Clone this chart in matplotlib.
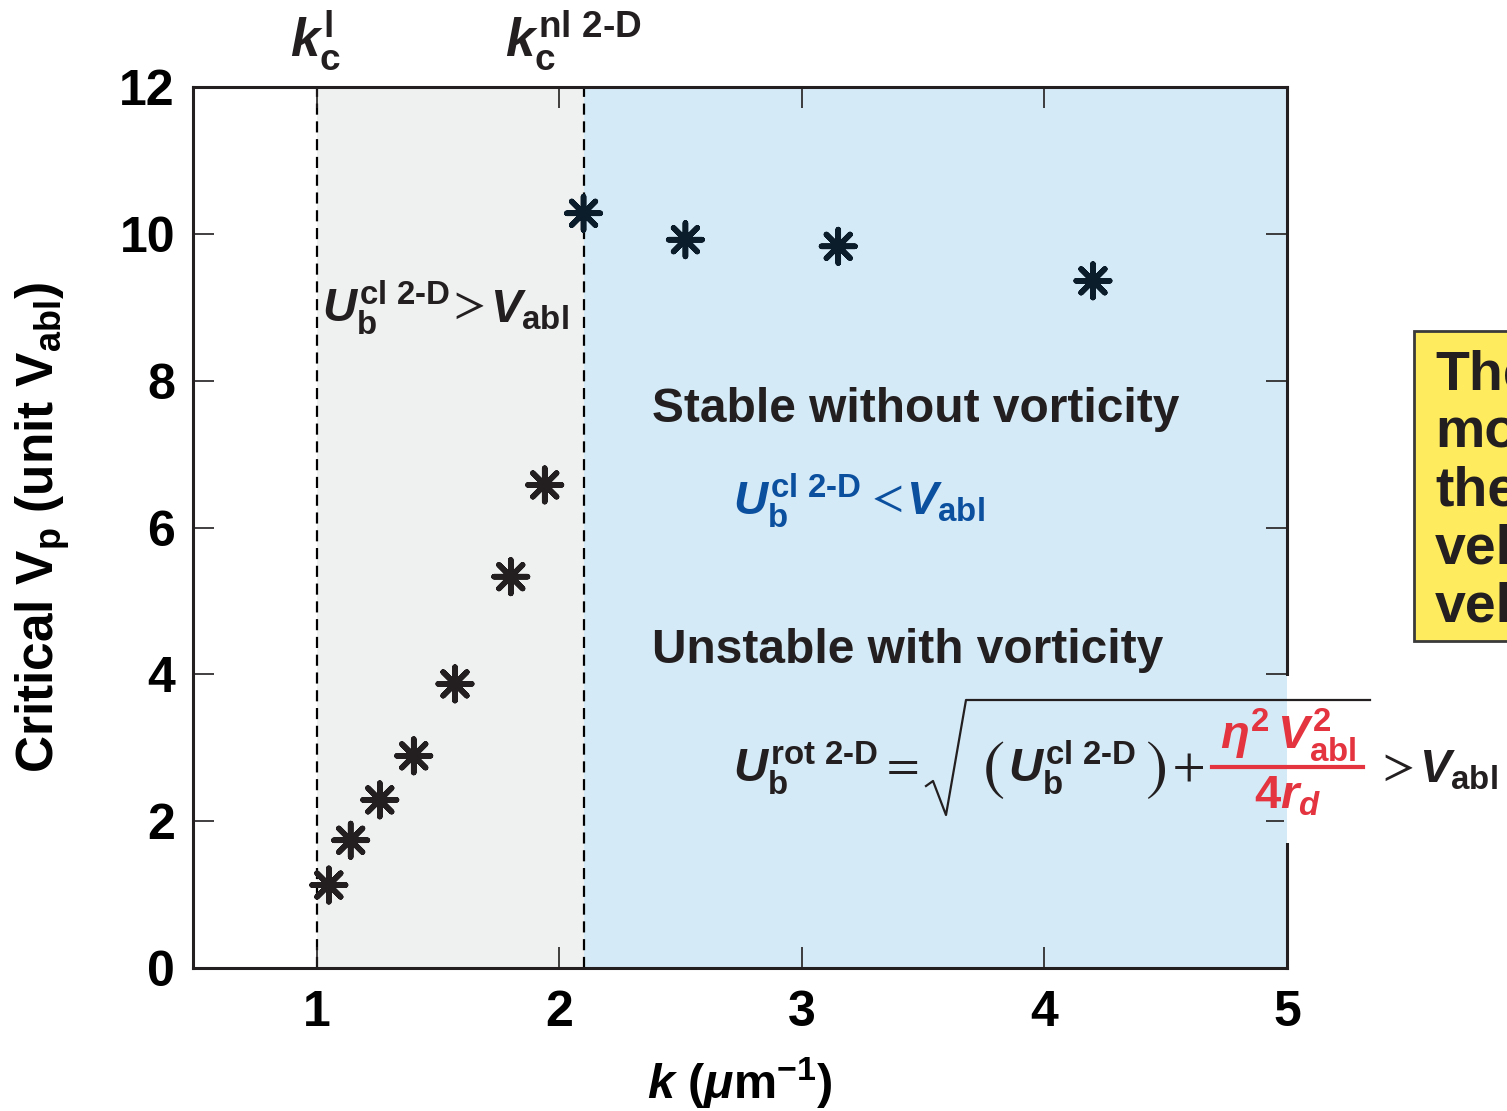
import matplotlib
matplotlib.use('Agg')
import matplotlib.pyplot as plt
from matplotlib.lines import Line2D
from matplotlib.patches import Rectangle

plt.rcParams['font.family'] = ['Liberation Sans', 'DejaVu Sans']
plt.rcParams['font.weight'] = 'bold'
plt.rcParams['axes.labelweight'] = 'bold'
plt.rcParams['mathtext.fontset'] = 'custom'
plt.rcParams['mathtext.rm'] = 'Liberation Sans:bold'
plt.rcParams['mathtext.it'] = 'Liberation Sans:bold:italic'
plt.rcParams['mathtext.bf'] = 'Liberation Sans:bold'

# data
k = [1.05, 1.14, 1.26, 1.40, 1.57, 1.80, 1.94, 2.10, 2.52, 3.15, 4.20]
vp = [1.13, 1.74, 2.29, 2.89, 3.87, 5.33, 6.58, 10.28, 9.92, 9.83, 9.36]
kc_l = 1.0
kc_nl = 2.1
xticks = [1, 2, 3, 4, 5]
yticks = [0, 2, 4, 6, 8, 10, 12]
box_lines = ['The', 'mo', 'the', 'vel', 'vel']

DARK = '#231f20'
GRAY = '#eff1f0'
BLUE = '#d4eaf6'
BLUE_TXT = '#0b4f9f'
RED = '#e3343f'
YELLOW = '#ffeb5e'

W, H = 1507, 1111
fig = plt.figure(figsize=(W / 100, H / 100), dpi=100)


def fx(px):
    return px / W


def fy(py):
    return 1 - py / H


def put(px, py, s, size=34, color=DARK, **kw):
    return fig.text(fx(px), fy(py), s, fontsize=size, color=color, **kw)


def thin(px, py, s, size=34, color=DARK):
    # thin relation signs and brackets, as in the original typesetting
    return fig.text(fx(px), fy(py), s, fontsize=size, color=color,
                    family='STIXGeneral', fontweight='normal')


ax = fig.add_axes([fx(193), fy(968), (1287 - 193) / W, (968 - 87) / H])
ax.axvspan(kc_l, kc_nl, color=GRAY, lw=0, zorder=0)
ax.axvspan(kc_nl, xticks[-1], color=BLUE, lw=0, zorder=0)
for kc in (kc_l, kc_nl):
    ax.axvline(kc, color='black', lw=1.6, dashes=(5, 3), zorder=1)

cols = [DARK if x < kc_nl else '#0b1d2a' for x in k]
ax.scatter(k, vp, marker=(8, 2, 0), s=580, linewidths=4.0, c=cols, zorder=3)

ax.set_xlim(0.49, 5.0)
ax.set_ylim(0, 12)
ax.set_xticks(xticks)
ax.set_yticks(yticks)
ax.tick_params(direction='in', length=15, width=1.2, top=True, right=True,
               labelsize=36, color=DARK, labelcolor='black')
ax.tick_params(axis='x', pad=16)
ax.tick_params(axis='y', pad=13)
for sp in ax.spines.values():
    sp.set_linewidth(2.2)
    sp.set_color(DARK)

ax.set_xlabel(r'$k$ ($\mu$m$^{-1}$)', fontsize=35)
ax.xaxis.set_label_coords(0.5, -0.1)
ax.set_ylabel(r'Critical $\mathrm{V_p}$ (unit $\mathrm{V_{abl}}$)', fontsize=37)
ax.yaxis.set_label_coords(-0.111, 0.5)

# critical wavenumber labels above the axes
put(290, 57, r'$k_{\mathrm{c}}^{\mathrm{l}}$', size=38)
put(505, 57, r'$k_{\mathrm{c}}^{\mathrm{nl\ 2‐D}}$', size=38)

# region annotations
put(322, 322, r'$U_{\mathrm{b}}^{\mathrm{cl\ 2‐D}}$')
thin(453, 318, '>')
put(490, 322, r'$V_{\mathrm{abl}}$')
put(652, 422, 'Stable without vorticity', size=34.5)
put(733, 515, r'$U_{\mathrm{b}}^{\mathrm{cl\ 2‐D}}$', color=BLUE_TXT)
thin(871, 511, '<', color=BLUE_TXT)
put(906, 515, r'$V_{\mathrm{abl}}$', color=BLUE_TXT)
put(652, 663, 'Unstable with vorticity', size=34.5)

# formula with vorticity (it covers the right spine)
fig.add_artist(Rectangle((fx(1284), fy(843)), 3 / W, (843 - 676) / H,
                         transform=fig.transFigure, facecolor=BLUE, lw=0, zorder=2))
fig.add_artist(Rectangle((fx(1287), fy(843)), 4 / W, (843 - 676) / H,
                         transform=fig.transFigure, facecolor='white', lw=0, zorder=2))
put(733, 782, r'$U_{\mathrm{b}}^{\mathrm{rot\ 2‐D}}$')
thin(887, 780, '=')
fig.add_artist(Line2D([fx(p) for p in (926, 933, 946, 966, 1370)],
                      [fy(p) for p in (786, 781, 815, 700, 700)],
                      transform=fig.transFigure, color=DARK, lw=1.6, zorder=4))
thin(983, 787, '(', size=48)
put(1008, 782, r'$U_{\mathrm{b}}^{\mathrm{cl\ 2‐D}}$')
thin(1145, 787, ')', size=48)
thin(1173, 780, '+')
put(1288, 749, r'$\eta^{2}\,V_{\mathrm{abl}}^{2}$', color=RED, ha='center')
fig.add_artist(Line2D([fx(1212), fx(1363)], [fy(767), fy(767)],
                      transform=fig.transFigure, color=RED, lw=3, zorder=4))
put(1288, 808, r'$4r_{d}$', color=RED, ha='center')
thin(1382, 780, '>')
put(1419, 782, r'$V_{\mathrm{abl}}$')

# clipped yellow callout at the right edge
fig.add_artist(Rectangle((fx(1414), fy(641)), 110 / W, (641 - 331) / H,
                         transform=fig.transFigure, facecolor=YELLOW,
                         edgecolor='#3a3a3a', lw=2, zorder=2))
for i, line in enumerate(box_lines):
    put(1435, 390 + i * 58, line, size=40)

fig.savefig('out.png', dpi=100)
